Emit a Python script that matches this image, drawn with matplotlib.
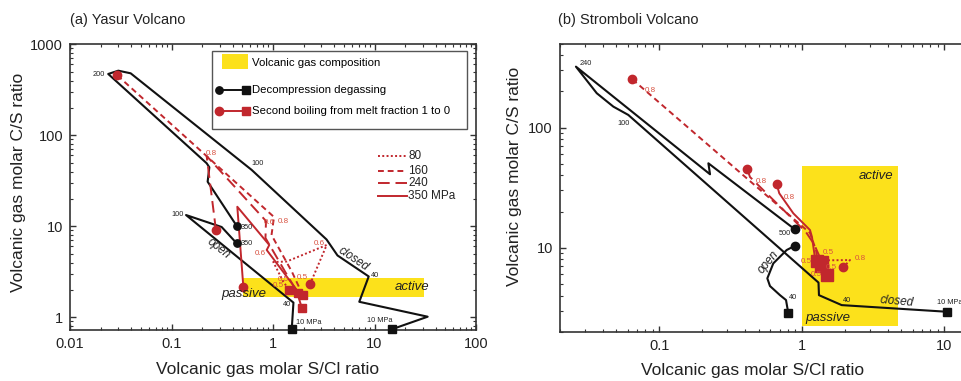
import matplotlib
matplotlib.use("Agg")
import matplotlib.pyplot as plt
from matplotlib.patches import Rectangle
from matplotlib.lines import Line2D
from matplotlib.ticker import FixedLocator, FixedFormatter, LogLocator, NullFormatter

plt.rcParams['font.family'] = ['Liberation Sans', 'DejaVu Sans']

BLACK = '#111111'
RED = '#c1272d'
LABEL_RED = '#d8503f'
YELLOW = '#fce11b'

# ---------------- Yasur data (S/Cl, C/S) ----------------
yasur_gas_sc = [0.51, 31.0]
yasur_gas_cs = [1.68, 2.68]

yasur_closed_sc = [0.439, 0.227, 0.236, 0.222, 0.0238, 0.0299, 0.0396, 0.617, 3.37, 4.32, 8.77, 7.08, 33.4, 14.9]
yasur_closed_cs = [10.1, 30.9, 44.5, 49.3, 472, 513, 480, 41.6, 7.16, 4.78, 2.81, 1.48, 1.015, 0.74]

yasur_open_sc = [0.439, 0.312, 0.139, 1.59, 1.53]
yasur_open_cs = [6.5, 9.82, 13.3, 1.45, 0.74]

# second boiling, one line per pressure (MPa)
yasur_sb80_sc = [2.315, 3.38, 1.364, 1.007, 1.263, 1.447]
yasur_sb80_cs = [2.305, 6.23, 4.1, 4.05, 2.46, 1.995]
yasur_sb160_sc = [0.0292, 1.023, 0.967, 1.539, 1.962]
yasur_sb160_cs = [456, 12.65, 8.02, 3.15, 1.758]
yasur_sb240_sc = [0.274, 0.222, 0.853, 0.843, 1.374, 1.751]
yasur_sb240_cs = [9.11, 59.2, 11.43, 7.44, 2.92, 1.864]
yasur_sb350_sc = [0.51, 0.445, 0.919, 0.867, 1.685, 1.918]
yasur_sb350_cs = [2.17, 16.4, 6.23, 5.49, 2.05, 1.281]

# ---------------- Stromboli data ----------------
strom_gas_sc = [1.0, 4.7]
strom_gas_cs = [2.24, 48.0]

strom_closed_sc = [0.896, 0.221, 0.227, 0.026, 0.0364, 0.0476, 0.0606, 1.31, 1.32, 1.905, 10.5]
strom_closed_cs = [14.2, 50.5, 40.9, 322, 193.5, 149.6, 127.6, 5.13, 4.03, 3.33, 2.93]

strom_open_sc = [0.896, 0.783, 0.631, 0.573, 0.598, 0.703, 0.775, 0.791, 0.804]
strom_open_cs = [10.4, 9.57, 7.41, 5.56, 4.8, 4.03, 3.67, 3.19, 2.87]

strom_sb80_sc = [1.955, 2.179, 1.36, 1.364]
strom_sb80_cs = [6.87, 7.9, 7.85, 7.04]
strom_sb160_sc = [0.0646, 1.142, 1.258, 1.289]
strom_sb160_cs = [253, 13.26, 9.57, 7.82]
strom_sb240_sc = [0.414, 0.433, 1.07, 1.218, 1.386]
strom_sb240_cs = [45.3, 38.8, 13.5, 10.74, 7.6]
strom_sb350_sc = [0.667, 0.695, 0.872, 1.142, 1.179, 1.238, 1.51]
strom_sb350_cs = [33.8, 28.4, 19.35, 14.05, 12.28, 8.21, 5.92]

pressures = ['80', '160', '240', '350 MPa']
styles = [(0, (1, 1.2)), (0, (3, 2)), (0, (6, 3)), '-']

# text labels: (text, S/Cl, C/S)
yasur_p_labels = [('200', 0.0194, 460), ('100', 0.70, 49.2), ('100', 0.115, 13.55),
                  ('350', 0.558, 9.75), ('350', 0.558, 6.5), ('40', 10.1, 2.89),
                  ('40', 1.364, 1.365), ('10 MPa', 2.23, 0.881), ('10 MPa', 11.3, 0.918)]
yasur_f_labels = [('0.8', 0.249, 63.4), ('0.6', 0.919, 10.95), ('0.8', 1.263, 11.43),
                  ('0.6', 2.84, 6.5), ('0.6', 0.756, 5.05), ('0.5', 1.263, 2.57),
                  ('0.5', 1.128, 2.21), ('0.5', 1.962, 2.72)]
strom_p_labels = [('240', 0.0306, 344), ('100', 0.0565, 108.8), ('500', 0.762, 13.2),
                  ('40', 0.863, 3.83), ('40', 2.066, 3.665)]
strom_f_labels = [('0.8', 0.086, 203), ('0.8', 0.523, 35.5), ('0.8', 0.813, 26.3),
                  ('0.8', 2.56, 8.16), ('0.5', 1.535, 9.09), ('0.5', 1.07, 7.64),
                  ('0.5', 1.621, 6.87), ('0.5', 1.258, 6.0)]


def decomp(ax, xs, ys, ms=5.3):
    ax.plot(xs, ys, color=BLACK, lw=1.5, zorder=4)
    ax.plot(xs[0], ys[0], 'o', color=BLACK, ms=ms, zorder=6, clip_on=False)
    ax.plot(xs[-1], ys[-1], 's', color=BLACK, ms=ms, zorder=6, clip_on=False)


def boiling(ax, xs, ys, ls, ms_sq=6):
    ax.plot(xs, ys, color=RED, lw=1.4, ls=ls, zorder=5)
    ax.plot(xs[0], ys[0], 'o', color=RED, ms=6, zorder=7)
    ax.plot(xs[-1], ys[-1], 's', color=RED, ms=ms_sq, zorder=7)


def style_axes(ax, xlim, ylim, xt, yt, right=True):
    ax.set_xscale('log')
    ax.set_yscale('log')
    ax.set_xlim(*xlim)
    ax.set_ylim(*ylim)
    ax.xaxis.set_major_locator(FixedLocator(xt))
    ax.xaxis.set_major_formatter(FixedFormatter(['%g' % v for v in xt]))
    ax.yaxis.set_major_locator(FixedLocator(yt))
    ax.yaxis.set_major_formatter(FixedFormatter(['%g' % v for v in yt]))
    ax.xaxis.set_minor_locator(LogLocator(base=10, subs=range(2, 10), numticks=20))
    ax.yaxis.set_minor_locator(LogLocator(base=10, subs=range(2, 10), numticks=20))
    ax.xaxis.set_minor_formatter(NullFormatter())
    ax.yaxis.set_minor_formatter(NullFormatter())
    ax.tick_params(which='both', direction='in', top=True, right=right,
                   labelsize=10.5, labelcolor='#222222', color='#333333')
    ax.tick_params(which='major', length=4, width=1, pad=5)
    ax.tick_params(which='minor', length=2.2, width=0.8)
    for s in ax.spines.values():
        s.set_linewidth(1.2)
        s.set_color('#333333')


fig = plt.figure(figsize=(9.62, 3.81), dpi=100)
ax1 = fig.add_axes([70 / 962, 1 - 330 / 381, 406 / 962, 285.7 / 381])
ax2 = fig.add_axes([559.7 / 962, 1 - 331.7 / 381, 405.4 / 962, 288 / 381])

# ---------------- panel (a) ----------------
style_axes(ax1, (0.01, 100), (0.725, 1000), [0.01, 0.1, 1, 10, 100], [1, 10, 100, 1000])
ax1.add_patch(Rectangle((yasur_gas_sc[0], yasur_gas_cs[0]), yasur_gas_sc[1] - yasur_gas_sc[0],
                        yasur_gas_cs[1] - yasur_gas_cs[0], color=YELLOW, lw=0, zorder=1))
decomp(ax1, yasur_closed_sc, yasur_closed_cs)
decomp(ax1, yasur_open_sc, yasur_open_cs)
for (xs, ys), ls in zip([(yasur_sb80_sc, yasur_sb80_cs), (yasur_sb160_sc, yasur_sb160_cs),
                         (yasur_sb240_sc, yasur_sb240_cs), (yasur_sb350_sc, yasur_sb350_cs)], styles):
    boiling(ax1, xs, ys, ls)

for t, x, y in yasur_p_labels:
    ax1.text(x, y, t, fontsize=5.3, color='#222222', ha='center', va='center', zorder=8)
for t, x, y in yasur_f_labels:
    ax1.text(x, y, t, fontsize=5.8, color=LABEL_RED, ha='center', va='center', zorder=8)
ax1.text(0.289, 5.73, 'open', fontsize=8.5, style='italic', rotation=-39, ha='center', va='center', color='#222222')
ax1.text(6.18, 4.34, 'closed', fontsize=8.5, style='italic', rotation=-34, ha='center', va='center', color='#222222')
ax1.text(0.521, 1.79, 'passive', fontsize=9.5, style='italic', ha='center', va='center', color='#222222', zorder=8)
ax1.text(23.6, 2.14, 'active', fontsize=9.5, style='italic', ha='center', va='center', color='#222222', zorder=8)

# legend box
T = ax1.transAxes
ax1.add_patch(Rectangle((0.3505, 0.7035), 0.628, 0.273, transform=T, fill=False,
                        ec='#555555', lw=1.0, zorder=9))
ax1.add_patch(Rectangle((0.3751, 0.9125), 0.0626, 0.0525, transform=T, color=YELLOW, lw=0, zorder=9))
ax1.text(0.449, 0.935, 'Volcanic gas composition', transform=T, fontsize=8.2, va='center', zorder=9)
ax1.add_line(Line2D([0.367, 0.4328], [0.840, 0.840], transform=T, color=BLACK, lw=1.4, zorder=9))
ax1.add_line(Line2D([0.367], [0.840], transform=T, marker='o', color=BLACK, ms=5.3, zorder=9))
ax1.add_line(Line2D([0.4328], [0.840], transform=T, marker='s', color=BLACK, ms=5.3, zorder=9))
ax1.text(0.449, 0.840, 'Decompression degassing', transform=T, fontsize=8.2, va='center', zorder=9)
ax1.add_line(Line2D([0.367, 0.4328], [0.765, 0.765], transform=T, color=RED, lw=1.4, zorder=9))
ax1.add_line(Line2D([0.367], [0.765], transform=T, marker='o', color=RED, ms=6, zorder=9))
ax1.add_line(Line2D([0.4328], [0.765], transform=T, marker='s', color=RED, ms=6, zorder=9))
ax1.text(0.449, 0.765, 'Second boiling from melt fraction 1 to 0', transform=T, fontsize=8.2,
         va='center', zorder=9)

for i, (lab, ls) in enumerate(zip(pressures, styles)):
    yy = [0.610, 0.5576, 0.5156, 0.469][i]
    ax1.add_line(Line2D([0.758, 0.829], [yy, yy], transform=T, color=RED, lw=1.4, ls=ls))
    ax1.text(0.833, yy, lab, transform=T, fontsize=8.5, va='center', color='#222222')

ax1.set_xlabel('Volcanic gas molar S/Cl ratio', fontsize=12.5, color='#222222')
ax1.set_ylabel('Volcanic gas molar C/S ratio', fontsize=12.5, color='#222222')
ax1.xaxis.set_label_coords(0.4865, -0.112)
ax1.yaxis.set_label_coords(-0.108, 0.516)

# ---------------- panel (b) ----------------
style_axes(ax2, (0.02, 14), (2.0, 500), [0.1, 1, 10], [10, 100], right=False)
ax2.add_patch(Rectangle((strom_gas_sc[0], strom_gas_cs[0]), strom_gas_sc[1] - strom_gas_sc[0],
                        strom_gas_cs[1] - strom_gas_cs[0], color=YELLOW, lw=0, zorder=1))
decomp(ax2, strom_closed_sc, strom_closed_cs, ms=6)
decomp(ax2, strom_open_sc, strom_open_cs, ms=6)
for (xs, ys), ls in zip([(strom_sb80_sc, strom_sb80_cs), (strom_sb160_sc, strom_sb160_cs),
                         (strom_sb240_sc, strom_sb240_cs), (strom_sb350_sc, strom_sb350_cs)], styles):
    boiling(ax2, xs, ys, ls, ms_sq=8)

for t, x, y in strom_p_labels:
    ax2.text(x, y, t, fontsize=5.3, color='#222222', ha='center', va='center', zorder=8)
ax2.text(8.84, 3.48, '10 MPa', fontsize=5.3, color='#222222', ha='left', va='center', zorder=8,
         clip_on=False)
for t, x, y in strom_f_labels:
    ax2.text(x, y, t, fontsize=5.8, color=LABEL_RED, ha='center', va='center', zorder=8)
ax2.text(0.582, 7.64, 'open', fontsize=8.5, style='italic', rotation=50, ha='center', va='center', color='#222222')
ax2.text(4.63, 3.55, 'closed', fontsize=8.5, style='italic', rotation=-5, ha='center', va='center', color='#222222')
ax2.text(1.52, 2.58, 'passive', fontsize=9.5, style='italic', ha='center', va='center', color='#222222', zorder=8)
ax2.text(3.30, 39.8, 'active', fontsize=9.5, style='italic', ha='center', va='center', color='#222222', zorder=8)

ax2.set_xlabel('Volcanic gas molar S/Cl ratio', fontsize=12.5, color='#222222')
ax2.set_ylabel('Volcanic gas molar C/S ratio', fontsize=12.5, color='#222222')
ax2.xaxis.set_label_coords(0.4746, -0.109)
ax2.yaxis.set_label_coords(-0.094, 0.538)

fig.text(70 / 962, 1 - 20 / 381, '(a) Yasur Volcano', fontsize=10.5, va='center', color='#222222')
fig.text(557.7 / 962, 1 - 20 / 381, '(b) Stromboli Volcano', fontsize=10.5, va='center', color='#222222')

fig.savefig('out.png', dpi=100)
